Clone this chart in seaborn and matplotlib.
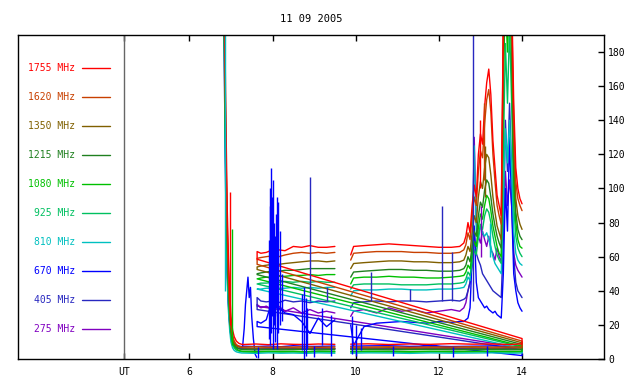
import matplotlib
matplotlib.use("Agg")
import matplotlib.pyplot as plt
import pandas as pd
import seaborn as sns

# radio flux, 11 09 2005
FREQS = ["1755 MHz", "1620 MHz", "1350 MHz", "1215 MHz", "1080 MHz",
         "925 MHz", "810 MHz", "670 MHz", "405 MHz", "275 MHz"]
COLORS = ["#ff0000", "#c84000", "#806000", "#208020", "#00c000",
          "#00c060", "#00c0c0", "#0000ff", "#2828c0", "#8000c0"]

# start-up transient
T_DECAY = [6.82, 6.85, 6.88, 6.91, 6.94, 6.97, 7.00, 7.04, 7.08, 7.13, 7.19, 7.26]
DECAY = [
    [260, 200, 140, 90, 60, 40, 25, 17, 13, 10.5, 9.2, 8.6],
    [250, 190, 125, 80, 52, 34, 21, 14, 10.5, 8.5, 7.5, 7.0],
    [250, 185, 120, 76, 48, 31, 19, 12.5, 9.5, 7.8, 7.0, 6.6],
    [240, 180, 115, 72, 45, 28, 17, 11, 8.5, 7.0, 6.0, 5.6],
    [240, 175, 110, 68, 42, 26, 15.5, 10, 7.5, 6.0, 5.0, 4.6],
    [235, 165, 100, 60, 36, 22, 13, 8.5, 6.5, 5.2, 4.7, 4.3],
    [230, 150, 85, 48, 28, 17, 10, 6.5, 5.0, 4.2, 3.8, 3.5],
    [250, 170, 100, 55, 33, 21, 14, 10, 8.5, 7.8, 7.5, 7.3],
    [240, 160, 95, 55, 34, 22, 14, 9.5, 7.5, 6.6, 6.2, 6.0],
    [240, 150, 85, 50, 31, 20, 13, 9.0, 7.2, 6.5, 6.2, 6.0],
]

# background traces
T_LOW1 = [7.30, 7.6, 7.9, 8.2, 8.5, 8.8, 9.1, 9.5]
LOW1 = [
    [8.5, 8.8, 8.4, 8.9, 8.6, 8.5, 8.8, 8.6],
    [7.0, 7.2, 6.9, 7.1, 7.0, 7.2, 6.9, 7.1],
    [6.5, 6.3, 6.6, 6.4, 6.5, 6.3, 6.6, 6.4],
    [5.5, 5.3, 5.6, 5.4, 5.5, 5.7, 5.4, 5.5],
    [4.5, 4.3, 4.6, 4.4, 4.5, 4.3, 4.6, 4.5],
    [4.2, 4.0, 4.3, 4.1, 4.2, 4.0, 4.3, 4.1],
    [3.5, 3.3, 3.6, 3.4, 3.5, 3.3, 3.6, 3.4],
    [7.5, 7.3, 7.6, 7.2, 7.8, 7.4, 7.4, 7.6],
    [6.2, 6.0, 6.3, 6.1, 6.2, 6.0, 6.3, 6.1],
    [6.0, 5.8, 6.1, 5.9, 6.0, 6.2, 5.9, 6.0],
]
T_LOW2 = [9.88, 10.3, 10.8, 11.3, 11.8, 12.3, 12.8, 13.3, 13.7, 14.0]
LOW2 = [
    [8.7, 8.9, 8.5, 8.8, 8.6, 9.0, 8.7, 8.8, 8.5, 8.9],
    [7.1, 7.0, 7.2, 6.9, 7.1, 7.0, 7.2, 7.0, 7.1, 7.0],
    [6.5, 6.4, 6.6, 6.3, 6.5, 6.4, 6.6, 6.4, 6.5, 6.4],
    [5.5, 5.6, 5.4, 5.5, 5.7, 5.4, 5.5, 5.6, 5.4, 5.5],
    [4.4, 4.6, 4.5, 4.3, 4.6, 4.4, 4.5, 4.6, 4.4, 4.5],
    [4.1, 4.3, 4.2, 4.0, 4.3, 4.1, 4.2, 4.3, 4.1, 4.2],
    [3.4, 3.6, 3.5, 3.3, 3.6, 3.4, 3.5, 3.6, 3.4, 3.5],
    [7.5, 7.7, 7.8, 7.4, 7.6, 7.3, 7.5, 7.7, 7.2, 7.4],
    [6.1, 6.3, 6.0, 6.2, 6.1, 6.3, 6.0, 6.2, 6.1, 6.2],
    [6.0, 6.1, 5.9, 6.0, 6.2, 5.9, 6.0, 6.1, 5.9, 6.0],
]

# wrap-around lines from 14.0 back to 7.63
DIAG_END = [12, 10.5, 9.5, 8.5, 7.5, 7, 6, 2, 5.5, 6.5]
DIAG_START = [58.5, 55.5, 52.5, 49.5, 47, 44, 41, 19, 29, 31]

# flux traces
T_HIGH1 = [7.63, 7.72, 7.85, 8.0, 8.15, 8.3, 8.5, 8.7, 8.9, 9.1, 9.3, 9.5]
HIGH1 = [
    [63, 62, 62.5, 64, 64, 63.5, 66, 65.5, 66.5, 65.5, 65.5, 66],
    [59, 59.5, 60, 60.5, 60, 61, 62, 62.5, 62, 62.5, 62, 62.5],
    [54, 54.5, 55, 55.5, 55.5, 56, 56.5, 57, 57.5, 57.5, 57, 57.5],
    [50, 50.5, 51, 51.5, 51.5, 52, 52, 52.5, 53, 53, 53, 53],
    [47, 47.5, 48, 48, 48.5, 48.5, 49, 49, 49.5, 49, 49.5, 49.5],
    [44, 44.5, 44.5, 45, 45, 45.5, 45, 45.5, 45, 45.5, 45, 45],
    [41, 41, 41.5, 41.5, 41.5, 41.5, 42, 41.5, 42, 41.5, 42, 42],
    [22, 21, 23, 35, 30, 27, 26, 22, 15, 24, 19, 23],
    [36, 34, 33.5, 34, 33, 34.5, 33.5, 34, 33, 34, 33.5, 34],
    [32, 30, 31, 29, 31, 28, 30, 27, 29, 27, 28, 27],
]
T_HIGH2 = [9.88, 9.95, 10.2, 10.5, 10.8, 11.1, 11.4, 11.7, 12.0, 12.3, 12.5]
HIGH2 = [
    [61, 66, 66.5, 67, 67.5, 67, 66.5, 66, 65.5, 65.5, 66],
    [58, 62, 62.5, 63, 63, 63, 62.5, 62.5, 62, 62, 62.5],
    [53, 56, 56.5, 57, 57.5, 57.5, 57, 57, 56.5, 56.5, 57],
    [48, 51, 51.5, 52, 52.5, 52.5, 52, 52, 51.5, 51.5, 52],
    [44, 47.5, 48, 48, 48.5, 48, 48, 47.5, 47.5, 48, 48.5],
    [41, 43.5, 44, 44, 44, 43.5, 43.5, 43.5, 44, 44, 44.5],
    [37, 40, 40.5, 40.5, 41, 41, 40.5, 40.5, 41, 41, 41.5],
    [20, 8, 19, 21, 21.5, 22, 21.5, 21, 22, 21.5, 22],
    [30, 33, 33.5, 34, 33.5, 34, 34, 33.5, 34, 34.5, 34],
    [25, 28, 29, 27, 30, 28, 29, 27, 28, 29, 28],
]
T_FLARE = [12.60, 12.65, 12.70, 12.75, 12.80, 12.85, 12.90, 12.95, 13.00, 13.05,
           13.10, 13.15, 13.20, 13.25, 13.30, 13.35, 13.40, 13.45, 13.50, 13.55,
           13.60, 13.65, 13.70, 13.75, 13.80, 13.85, 13.90, 13.95, 14.00]
FLARE = [
    [68, 72, 80, 74, 90, 102, 95, 120, 132, 126, 148, 162, 170, 155, 128, 112, 96, 90, 84, 200, 240, 210, 250, 215, 150, 112, 100, 94, 91],
    [64, 67, 74, 70, 84, 95, 90, 110, 122, 118, 138, 152, 158, 145, 120, 104, 90, 84, 79, 195, 235, 205, 245, 205, 140, 104, 94, 90, 87],
    [58, 61, 66, 63, 74, 84, 80, 95, 104, 100, 112, 120, 118, 108, 95, 86, 78, 74, 70, 185, 230, 195, 240, 195, 125, 94, 84, 79, 76],
    [53, 55, 60, 57, 66, 75, 72, 84, 92, 89, 99, 105, 103, 95, 85, 78, 72, 68, 65, 175, 220, 190, 235, 185, 115, 86, 76, 72, 70],
    [49, 51, 55, 53, 61, 69, 66, 77, 85, 82, 90, 96, 94, 87, 78, 72, 66, 62, 60, 165, 210, 180, 225, 175, 105, 80, 70, 66, 65],
    [45, 47, 51, 49, 56, 64, 61, 72, 79, 76, 84, 88, 86, 80, 72, 66, 61, 58, 56, 120, 185, 150, 195, 150, 90, 72, 65, 62, 60],
    [42, 44, 48, 46, 62, 125, 75, 70, 78, 74, 72, 74, 70, 66, 60, 56, 54, 52, 50, 90, 135, 115, 140, 110, 75, 62, 58, 56, 55],
    [22, 23, 24, 30, 60, 78, 45, 36, 34, 32, 30, 31, 29, 28, 27, 28, 26, 25, 24, 50, 100, 75, 130, 90, 50, 40, 33, 30, 28],
    [35, 36, 40, 45, 55, 75, 62, 58, 55, 50, 48, 46, 44, 42, 40, 39, 38, 37, 36, 70, 140, 110, 150, 110, 60, 45, 40, 38, 36],
    [30, 33, 40, 45, 60, 130, 80, 72, 68, 75, 70, 66, 72, 64, 62, 58, 65, 60, 57, 80, 110, 90, 105, 90, 62, 55, 52, 50, 48],
]

# 670 MHz burst just after start-up
BUMP_T = [7.28, 7.32, 7.35, 7.38, 7.41, 7.44, 7.47, 7.50, 7.54, 7.58, 7.62]
BUMP_V = [7, 18, 32, 40, 48, 36, 42, 25, 12, 3, 1]

# short spikes / dropouts
SPIKE_FREQ = (["405 MHz"] * 7 + ["670 MHz"] * 28
              + ["1755 MHz", "1080 MHz", "810 MHz"]
              + ["1755 MHz", "1620 MHz", "1350 MHz", "275 MHz", "810 MHz"])
SPIKE_T = [8.91, 9.30, 10.37, 11.30, 12.08, 12.32, 12.83,
           7.92, 7.94, 7.95, 7.97, 7.99, 8.00, 8.03, 8.06, 8.08, 8.10, 8.12,
           8.14, 8.18, 8.22,
           8.72, 8.76, 8.80, 8.84, 9.20, 9.40, 9.92, 10.00, 10.12,
           7.65, 9.00, 10.90, 12.35, 13.15,
           6.98, 7.02, 6.86,
           12.98, 13.08, 13.12, 13.02, 13.22]
SPIKE_LO = [34, 34, 34, 34, 34, 34, 34,
            12, 20, 8, 15, 25, 6, 20, 10, 30, 6, 25,
            15, 20, 22,
            5, 0, 2, 6, 8, 2, 3, 2, 5,
            0.5, 1, 2, 1, 1.5,
            20, 8, 40,
            100, 105, 95, 60, 60]
SPIKE_HI = [107, 42, 51, 41, 90, 63, 200,
            70, 90, 100, 112, 95, 105, 80, 72, 85, 95, 80,
            92, 75, 50,
            38, 42, 36, 30, 30, 26, 25, 20, 18,
            7.3, 7.4, 7.6, 7.3, 7.5,
            98, 76, 190,
            140, 150, 125, 90, 80]


def build_frame():
    rows = []
    unit = 0
    for i, name in enumerate(FREQS):
        pieces = [
            (T_DECAY + T_LOW1, DECAY[i] + LOW1[i]),
            (T_LOW2 + [14.0, 7.63] + T_HIGH1,
             LOW2[i] + [DIAG_END[i], DIAG_START[i]] + HIGH1[i]),
            (T_HIGH2 + T_FLARE, HIGH2[i] + FLARE[i]),
        ]
        if name == "670 MHz":
            pieces.append((BUMP_T, BUMP_V))
        for ts, vs in pieces:
            for t, v in zip(ts, vs):
                rows.append((name, unit, t, v))
            unit += 1
    return pd.DataFrame(rows, columns=["freq", "unit", "t", "v"])


def main():
    sns.set_style("ticks")
    plt.rcParams["font.family"] = ["DejaVu Sans Mono"]
    plt.rcParams["font.size"] = 7
    plt.rcParams["text.color"] = "black"

    df = build_frame()
    palette = dict(zip(FREQS, COLORS))

    fig = plt.figure(figsize=(6.4, 3.84), dpi=100)
    ax = fig.add_axes([0.0281, 0.0651, 0.9156, 0.8438])

    sns.lineplot(data=df, x="t", y="v", hue="freq", units="unit",
                 estimator=None, sort=False, palette=palette,
                 hue_order=FREQS[::-1], legend=False, linewidth=1, ax=ax)
    ax.vlines(SPIKE_T, SPIKE_LO, SPIKE_HI,
              colors=[palette[f] for f in SPIKE_FREQ], linewidth=1)

    ax.axvline(4.44, color="#666666", linewidth=1)

    ax.set_xlim(1.88, 15.97)
    ax.set_ylim(0, 190)
    ax.set_xticks([4.44, 6, 8, 10, 12, 14])
    ax.set_xticklabels(["UT", "6", "8", "10", "12", "14"])
    ax.set_yticks(range(0, 181, 20))
    ax.yaxis.tick_right()
    ax.tick_params(axis="both", direction="in", length=4, width=1,
                   labelsize=7, colors="black")
    ax.tick_params(axis="x", top=True, pad=6)
    ax.tick_params(axis="y", left=False, right=True, labelright=True,
                   labelleft=False, pad=3)
    ax.set_xlabel("")
    ax.set_ylabel("")
    for sp in ax.spines.values():
        sp.set_linewidth(1)
        sp.set_color("black")

    ax.set_title("11 09 2005", fontsize=7.5, pad=9, color="black")

    # legend down the left side
    for i, (name, col) in enumerate(zip(FREQS, COLORS)):
        y = (359 - (68 + 29 * i)) / 324
        ax.text(0.0973, y, name, color=col, ha="right", va="center",
                fontsize=7, transform=ax.transAxes)
        ax.plot([0.109, 0.157], [y, y], color=col, linewidth=1,
                transform=ax.transAxes)

    fig.savefig("out.png", dpi=100)


if __name__ == "__main__":
    main()
